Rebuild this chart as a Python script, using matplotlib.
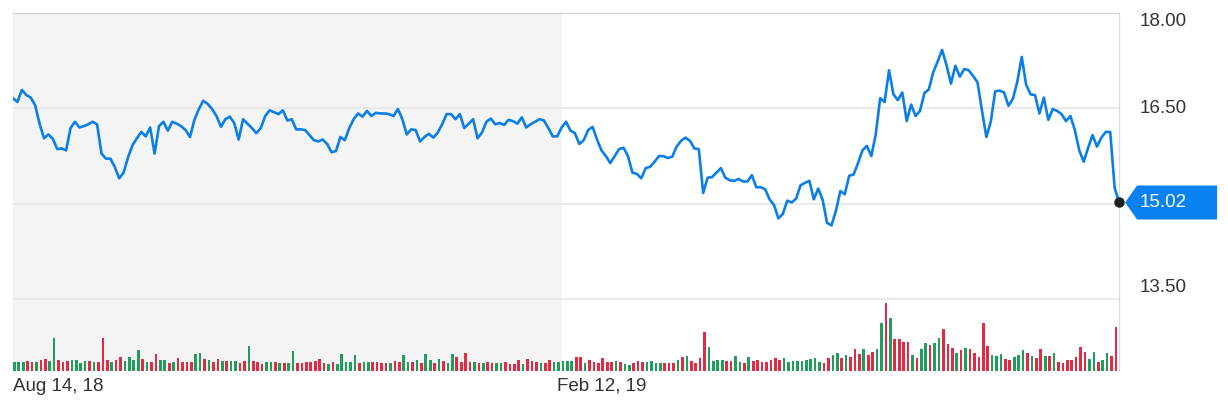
import matplotlib.pyplot as plt
import matplotlib.transforms as mtransforms
from matplotlib.patches import Polygon
import numpy as np

plt.rcParams['font.family'] = ['Liberation Sans', 'DejaVu Sans']

# daily close, Aug 14 2018 .. Aug 2019
price = [
    16.66, 16.60, 16.79, 16.71, 16.67, 16.55, 16.26, 16.03, 16.09, 16.02,
    15.86, 15.87, 15.84, 16.19, 16.29, 16.20, 16.22, 16.25, 16.29, 16.25,
    15.79, 15.71, 15.71, 15.58, 15.40, 15.49, 15.73, 15.92, 16.03, 16.13,
    16.06, 16.20, 15.79, 16.22, 16.29, 16.15, 16.29, 16.26, 16.22, 16.16,
    16.05, 16.32, 16.49, 16.62, 16.57, 16.49, 16.38, 16.21, 16.33, 16.37,
    16.27, 16.01, 16.33, 16.26, 16.19, 16.11, 16.19, 16.38, 16.47, 16.44,
    16.41, 16.47, 16.31,
    16.33, 16.17, 16.17, 16.16, 16.08, 16.00, 15.98, 16.01, 15.94, 15.81,
    15.83, 16.05, 16.00, 16.19, 16.33, 16.42, 16.37, 16.46, 16.38, 16.43,
    16.42, 16.42, 16.41, 16.38, 16.49, 16.33, 16.09, 16.17, 16.16, 15.98,
    16.05, 16.10, 16.04, 16.12, 16.25, 16.41, 16.41, 16.33, 16.41, 16.19,
    16.26, 16.33, 16.03, 16.12, 16.29, 16.34, 16.25, 16.27, 16.24, 16.32,
    16.30, 16.26, 16.36, 16.20, 16.25, 16.29, 16.33, 16.31, 16.19, 16.06,
    16.06, 16.20,
    16.29, 16.15, 16.11, 15.94, 16.00, 16.16, 16.21, 16.01, 15.84, 15.75,
    15.64, 15.75, 15.86, 15.88, 15.75, 15.49, 15.47, 15.40, 15.56, 15.58,
    15.66, 15.75, 15.75, 15.72, 15.74, 15.90, 15.99, 16.04, 15.99, 15.87,
    15.86, 15.17, 15.41, 15.42, 15.49, 15.56, 15.41, 15.37, 15.36, 15.39,
    15.35, 15.35, 15.45, 15.26, 15.26, 15.23, 15.07, 14.98, 14.77, 14.84,
    15.05, 15.02, 15.08, 15.29, 15.33, 15.36, 15.07, 15.24, 15.06, 14.70,
    14.66, 14.89,
    15.20, 15.15, 15.44, 15.46, 15.64, 15.84, 15.91, 15.75, 16.09, 16.66,
    16.60, 17.10, 16.72, 16.63, 16.75, 16.30, 16.56, 16.38, 16.46, 16.74,
    16.80, 17.07, 17.24, 17.42, 17.18, 16.89, 17.17, 17.00, 17.12, 17.10,
    17.01, 16.91, 16.47, 16.05, 16.29, 16.77, 16.78, 16.75, 16.54, 16.65,
    16.92, 17.31, 16.87, 16.72, 16.71, 16.42, 16.67, 16.32, 16.49, 16.46,
    16.41, 16.30, 16.38, 16.16, 15.84, 15.66, 15.88, 16.08, 15.90, 16.04,
    16.13, 16.13, 15.25, 15.02,
]

# daily volume (relative units) and up/down day
volume = [
    8.9,
    8.9, 8.9, 9.6, 8.6, 8.6, 11.4, 12.5, 10.0, 32.9, 10.7,
    8.9, 10.0, 10.7, 11.4, 7.9, 9.6, 10.0, 8.9, 8.9, 33.2,
    10.7, 8.9, 10.7, 13.6, 10.0, 13.6, 11.4, 21.4, 12.5, 8.9,
    8.9, 16.8, 10.7, 10.7, 7.9, 8.6, 13.2, 8.9, 8.9, 8.9,
    17.1, 17.9, 11.8, 11.4, 8.6, 12.5, 9.6, 9.6, 9.6, 9.6,
    7.9, 9.6, 25.0, 9.6, 8.6, 7.1, 8.9, 8.9, 8.9, 7.9,
    7.9, 7.9, 19.6, 7.9, 7.9, 8.6, 8.9, 10.0, 11.8, 7.9,
    7.1, 8.9, 7.1, 17.1, 8.9, 8.9, 16.1, 7.9, 8.6, 8.6,
    9.3, 8.6, 8.2, 7.9, 7.9, 10.0, 8.6, 16.1, 8.9, 8.9,
    10.7, 8.2, 17.1, 10.7, 7.9, 12.5, 10.0, 7.9, 17.1, 13.6,
    8.9, 17.9, 8.9, 8.6, 7.9, 8.2, 8.6, 7.9, 7.9, 7.9,
    8.9, 7.1, 7.1, 11.4, 7.1, 12.5, 10.0, 8.9, 7.9, 8.2,
    10.7, 9.3, 9.3,
    9.7, 9.7, 9.7, 13.7, 13.7, 7.9, 10.8, 9.0, 7.9, 12.6,
    9.0, 9.0, 9.7, 9.0, 7.2, 6.5, 8.3, 10.1, 9.0, 9.0,
    9.7, 7.9, 7.9, 7.9, 7.9, 7.9, 10.8, 13.7, 15.5, 9.7,
    7.9, 12.6, 38.9, 24.1, 10.1, 10.8, 10.8, 9.7, 9.7, 15.1,
    9.0, 7.9, 13.7, 9.7, 10.8, 8.6, 8.6, 10.8, 12.6, 10.8,
    12.6, 9.0, 9.7, 9.7, 10.1, 11.5, 11.9, 12.6, 9.0, 7.9,
    12.6, 16.2, 18.0, 12.6, 16.2, 13.7, 21.6, 17.3, 22.3, 16.2,
    18.7, 21.6, 47.6, 68.5, 53.3, 31.7, 32.4, 29.5, 28.8, 16.2,
    12.6, 22.3, 27.7, 26.3, 27.7, 33.2, 42.5, 27.0, 23.4, 18.0,
    20.9, 22.7, 21.6, 18.0, 14.4, 47.6, 25.2, 16.2, 15.5, 17.3,
    11.9, 10.8, 13.7, 16.2, 20.9, 18.0, 15.1, 12.6, 21.6, 15.1,
    15.1, 18.0, 9.0, 8.3, 11.5, 11.5, 13.7, 24.1, 19.1, 11.9,
    19.1, 9.0, 10.8, 18.0, 15.1, 44.0, 31.4,
]
direction = (
    "g"
    "ggrrgrrggr" "rrggggrgrr" "rgrrggggrg" "rrggrgrrrr" "ggrgrrgrgg"
    "rrgrrrggrg" "rggrrrrrrr" "grgggggrgg" "rrrrgrrggr" "grggrgrggr"
    "rrrgrgrrgg" "rrrrgrrrgr" "rgg"
    "gggrrgrrrr" "rrgrggrrrg" "gggrrrgrgr" "rrrggggrrg" "grgrrrrrrr"
    "gggggggggr" "rggrgrrrgr" "rggrgrrrrg" "rggrggrrrg" "rgrrrrrggg"
    "rrgggrgrrg" "rgrrrrrrrg" "grggrrr"
)

date_labels = ['Aug 14, 18', 'Feb 12, 19']
date_index = [0, 124]
grid_levels = [16.50, 15.00, 13.50]
price_labels = [18.00, 16.50, 13.50]

x = np.arange(len(price))
fig = plt.figure(figsize=(12.28, 4.13), dpi=100)
ax = fig.add_axes([0.0106, 0.1017, 0.9007, 0.8668])

ax.axvspan(date_index[0], date_index[1], color='#f4f4f4', lw=0, zorder=0)
for lv in grid_levels:
    ax.axhline(lv, color='#e6e6e6', lw=1.2, zorder=1)
ax.plot(x, price, color='#0b7fe6', lw=1.9, zorder=3)

# volume bars on their own scale, bottom of the panel
ax2 = ax.twinx()
bar_colors = ['#1f9e5b' if d == 'g' else '#e12a43' for d in direction]
ax2.bar(np.arange(len(volume)), volume, width=0.6, align='edge', color=bar_colors, lw=0)
ax2.set_ylim(0, max(volume) * 5.23)
ax2.set_yticks([])
for s in ax2.spines.values():
    s.set_visible(False)

ax.set_xlim(0, len(price) - 1)
ax.set_ylim(12.37, 18.0)
ax.set_yticks([])
ax.set_xticks([])
for s in ['left', 'bottom']:
    ax.spines[s].set_visible(False)
ax.spines['top'].set_color('#cccccc')
ax.spines['right'].set_color('#d6dae2')

# date labels under the panel
for idx, lab, dx in zip(date_index, date_labels, [0, -3.5]):
    ax.annotate(lab, xy=(idx, 0), xycoords=('data', 'axes fraction'),
                xytext=(dx, -5), textcoords='offset points', va='top', ha='left',
                fontsize=13.5, color='#333333', annotation_clip=False)

# right-hand price labels
for val, dy in zip(price_labels, [-6, 0, 8.5]):
    ax.annotate(f'{val:.2f}', xy=(1, val), xycoords=('axes fraction', 'data'),
                xytext=(15, dy), textcoords='offset points', va='center', ha='left',
                fontsize=13.5, color='#333333', annotation_clip=False)

# last price marker + flag
last = price[-1]
ax.plot(x[-1], last, 'o', color='#222222', ms=6.5, clip_on=False, zorder=8)
trans = mtransforms.ScaledTranslation(1.0, last, ax.get_yaxis_transform())
flag = Polygon([(6, 0), (18, 17), (98, 17), (98, -17), (18, -17)], closed=True,
               transform=trans, facecolor='#0a81f0', edgecolor='none', zorder=5,
               clip_on=False)
ax.add_artist(flag)
ax.annotate(f'{last:.2f}', xy=(1, last), xycoords=('axes fraction', 'data'),
            xytext=(15, 0), textcoords='offset points', va='center', ha='left',
            fontsize=13.5, color='white', annotation_clip=False, zorder=7)

fig.savefig('out.png', dpi=100)
